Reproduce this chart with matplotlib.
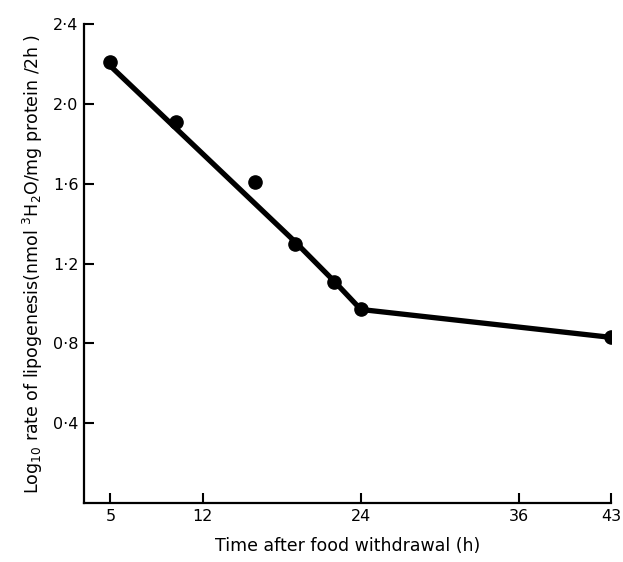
import matplotlib
matplotlib.use("Agg")
import matplotlib.pyplot as plt

# measured points
time_h = [5, 10, 16, 19, 22, 24, 43]
log_rate = [2.21, 1.91, 1.61, 1.30, 1.11, 0.97, 0.83]

# drawn fit line
fit_x = [5, 19, 22, 24, 43]
fit_y = [2.19, 1.31, 1.11, 0.97, 0.83]

xticks = [5, 12, 24, 36, 43]
yticks = [0.4, 0.8, 1.2, 1.6, 2.0, 2.4]
ytick_labels = ["0·4", "0·8", "1·2", "1·6", "2·0", "2·4"]

fig = plt.figure(figsize=(6.23, 5.62), dpi=100)
ax = fig.add_axes([0.135, 0.105, 0.846, 0.852])

ax.plot(fit_x, fit_y, color="black", lw=3.8, solid_capstyle="round", zorder=2)
ax.plot(time_h, log_rate, "o", color="black", ms=9.5, zorder=3)

ax.set_xlim(3, 43)
ax.set_ylim(0, 2.4)
ax.set_xticks(xticks)
ax.set_yticks(yticks)
ax.set_yticklabels(ytick_labels)
ax.tick_params(direction="in", length=7, width=1.5, labelsize=11.5, pad=4)

for s in ["top", "right"]:
    ax.spines[s].set_visible(False)
for s in ["left", "bottom"]:
    ax.spines[s].set_linewidth(1.6)

ax.set_xlabel("Time after food withdrawal (h)", fontsize=12.5, labelpad=10)
ax.set_ylabel("Log$_{10}$ rate of lipogenesis(nmol $^3$H$_2$O/mg protein /2h )",
              fontsize=12.5, labelpad=6)

fig.savefig("out.png", dpi=100)
